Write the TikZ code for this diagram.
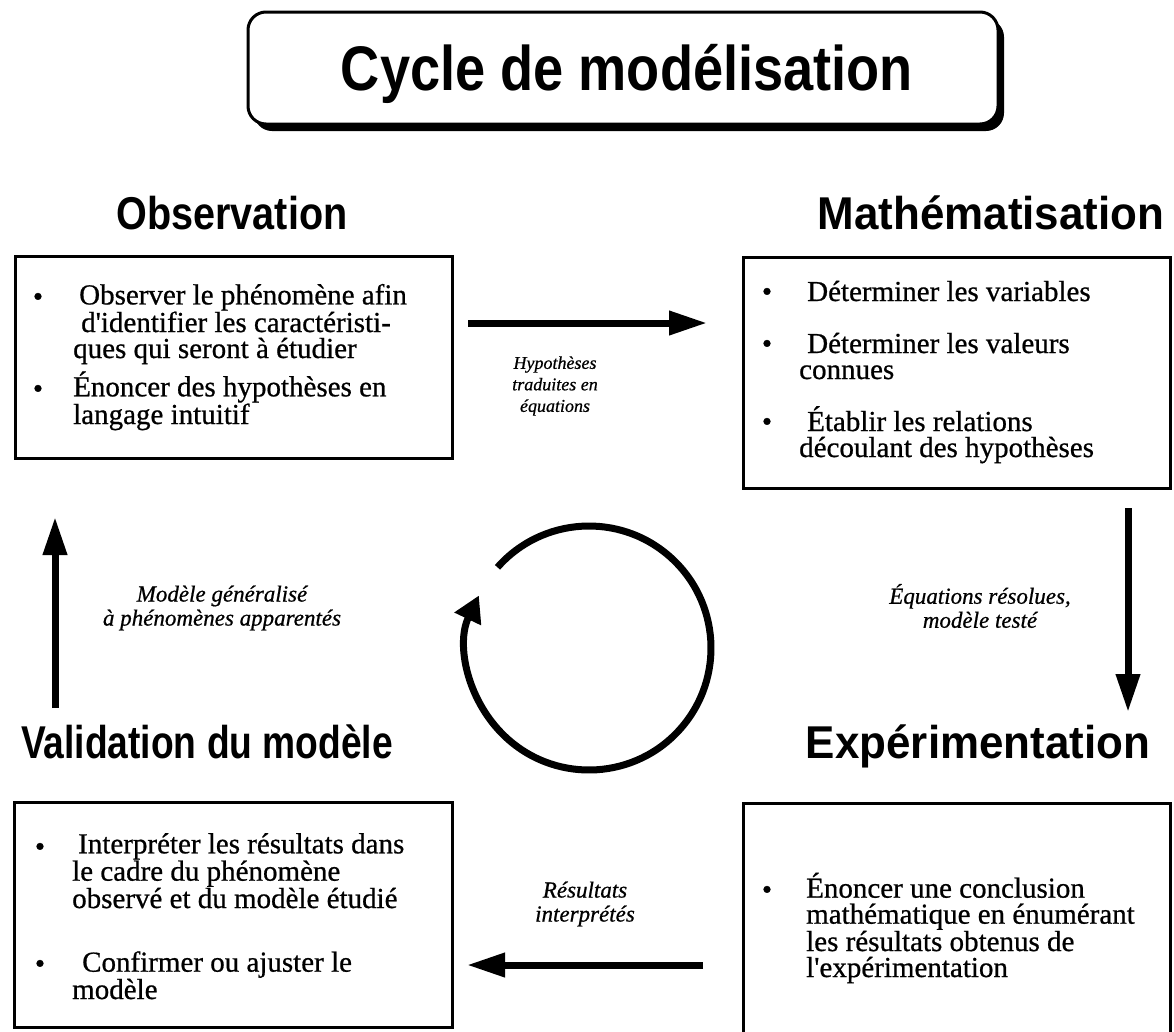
\documentclass[tikz,border=0pt]{standalone}
\usepackage{fontspec}
\usepackage{graphicx}
\newfontfamily\bodyfont{Liberation Serif}[FakeBold=0.7]
\newfontfamily\headfont{Liberation Sans}[FakeStretch=0.86]
\usetikzlibrary{arrows.meta,shadows,calc}
\begin{document}
\begin{tikzpicture}[x=1pt,y=-1pt,
  frame/.style={draw,line width=3pt,inner sep=0pt},
  titlebox/.style={draw,line width=3pt,fill=white,rounded corners=18pt,inner sep=0pt,
    drop shadow={shadow xshift=6pt,shadow yshift=-7pt,fill=black,opacity=1}},
  titletxt/.style={font=\headfont\bfseries\fontsize{63}{70}\selectfont,anchor=base,inner sep=0pt},
  head/.style={font=\headfont\bfseries\fontsize{46}{50}\selectfont,anchor=base,inner sep=0pt},
  % multi-line items are anchored at the baseline of their last line
  item/.style={font=\bodyfont\fontsize{29}{26}\selectfont,align=left,anchor=base west,inner sep=0pt},
  dot/.style={font=\bodyfont\fontsize{29}{26}\selectfont,anchor=base,inner sep=0pt},
  note/.style={align=center,inner sep=0pt},
  smallnote/.style={note,font=\bodyfont\itshape\fontsize{18}{21.5}\selectfont},
  bignote/.style={note,font=\bodyfont\itshape\fontsize{23}{24}\selectfont},
  flow/.style={line width=7pt,-{Triangle[length=38pt,width=23pt]}},
  loop/.style={line width=7pt,-{Triangle[length=26pt,width=28pt]}},
]
\useasboundingbox (0,0) rectangle (1174,1031);

% title banner
\node[titlebox,minimum width=750pt,minimum height=112pt] (title) at (623,68) {};
\node[titletxt] (titletext) at (627,90) {Cycle de modélisation};

% stage headings
\node[head] (hobs) at (232,229) {Observation};
\node[head] (hmath) at (991,229) {\scalebox{1.11}[1]{Mathématisation}};
\node[head] (hval) at (207,758) {\scalebox{0.94}[1]{Validation du modèle}};
\node[head] (hexp) at (978,758) {\scalebox{1.11}[1]{Expérimentation}};

% stage frames
\node[frame,minimum width=437pt,minimum height=202pt] (obsbox) at (233.5,357) {};
\node[frame,minimum width=427pt,minimum height=231pt] (mathbox) at (956.5,372.5) {};
\node[frame,minimum width=438pt,minimum height=225pt] (valbox) at (233,914.5) {};
\node[frame,minimum width=427pt,minimum height=245pt] (expbox) at (956.5,925.5) {};

% Observation items
\node[dot] (ob1) at (38,306) {•};
\node[item] (ot1) at (73,358) {\hspace*{6pt}Observer le phénomène afin\\\hspace*{8pt}d'identifier les caractéristi-\\ques qui seront à étudier};
\node[dot] (ob2) at (38,398) {•};
\node[item] (ot2) at (73,424) {Énoncer des hypothèses en\\langage intuitif};

% Mathematisation items
\node[dot] (mb1) at (767,301) {•};
\node[item] (mt1) at (799,301) {\hspace*{8pt}Déterminer les variables};
\node[dot] (mb2) at (767,353) {•};
\node[item] (mt2) at (799,379) {\hspace*{8pt}Déterminer les valeurs\\connues};
\node[dot] (mb3) at (767,431) {•};
\node[item] (mt3) at (799,457) {\hspace*{8pt}Établir les relations\\découlant des hypothèses};

% Validation items
\node[dot] (vb1) at (40,856) {•};
\node[item] (vt1) at (72,908) {\hspace*{6pt}Interpréter les résultats dans\\le cadre du phénomène\\observé et du modèle étudié};
\node[dot] (vb2) at (40,973) {•};
\node[item] (vt2) at (72,999) {\hspace*{10pt}Confirmer ou ajuster le\\modèle};

% Experimentation items
\node[dot] (eb1) at (767,899) {•};
\node[item] (et1) at (806,977) {Énoncer une conclusion\\mathématique en énumérant\\les résultats obtenus de\\l'expérimentation};

% transitions between stages
\coordinate (hypS) at (468,323);
\coordinate (hypE) at (707,323);
\coordinate (eqS) at (1128,508);
\coordinate (eqE) at (1128,712);
\coordinate (resS) at (703,965);
\coordinate (resE) at (467,965);
\coordinate (modS) at (55,708);
\coordinate (modE) at (55,517);
\draw[flow] (hypS) -- (hypE);
\draw[flow] (eqS) -- (eqE);
\draw[flow] (resS) -- (resE);
\draw[flow] (modS) -- (modE);

\node[smallnote] (lhyp) at (555,386) {Hypothèses\\traduites en\\équations};
\node[bignote] (leq) at (980,606) {Équations résolues,\\modèle testé};
\node[bignote] (lres) at (585,904) {Résultats\\interprétés};
\node[bignote] (lmod) at (222,608) {Modèle généralisé\\à phénomènes apparentés};

% central loop
\coordinate (cyc) at (589,648);
\coordinate (cycS) at ($(cyc)+(221.4:122)$);
\draw[loop] (cycS) arc[start angle=221.4,end angle=565.5,radius=122];
\end{tikzpicture}
\end{document}
